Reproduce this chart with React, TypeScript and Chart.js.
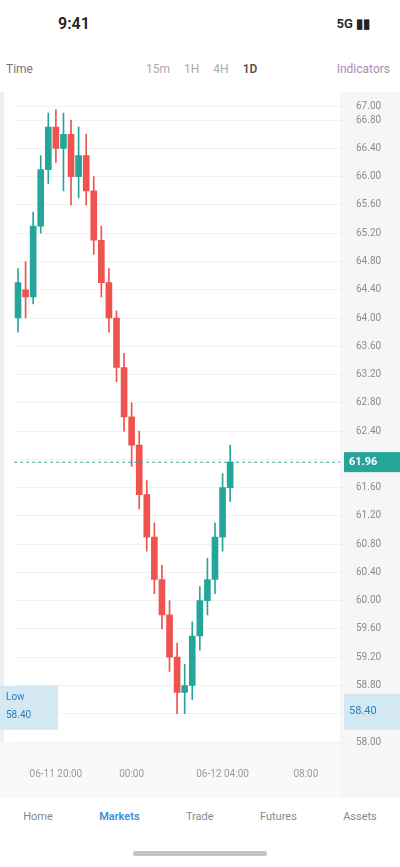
import { useEffect, useRef } from "react";
import { Chart, registerables } from "chart.js";

Chart.register(...registerables);

// candles, left to right; empty slots leave room on the right side
const opens = [64.0, 64.4, 64.3, 65.3, 66.1, 66.7, 66.4, 66.6, 66.0, 66.3, 65.8, 65.1, 64.5, 64.0, 63.3, 62.6, 62.2, 61.5, 60.9, 60.3, 59.8, 59.2, 58.7, 58.8, 59.5, 60.0, 60.3, 60.9, 61.6];
const closes = [64.5, 64.3, 65.3, 66.1, 66.7, 66.4, 66.6, 66.0, 66.3, 65.8, 65.1, 64.5, 64.0, 63.3, 62.6, 62.2, 61.5, 60.9, 60.3, 59.8, 59.2, 58.7, 58.8, 59.5, 60.0, 60.3, 60.9, 61.6, 61.96];
const highs = [64.7, 64.8, 65.5, 66.3, 66.9, 66.95, 66.9, 66.8, 66.7, 66.6, 66.0, 65.3, 64.7, 64.1, 63.5, 62.8, 62.4, 61.7, 61.1, 60.5, 60.0, 59.4, 59.1, 59.7, 60.2, 60.6, 61.1, 61.8, 62.2];
const lows = [63.8, 64.0, 64.2, 65.2, 65.9, 66.2, 65.8, 65.6, 65.7, 65.6, 64.9, 64.3, 63.8, 63.1, 62.4, 61.9, 61.3, 60.7, 60.1, 59.6, 59.0, 58.4, 58.4, 58.6, 59.3, 59.8, 60.1, 60.7, 61.4];
const slotCount = 43;
const xTickIdx = [5, 15, 27, 38];
const xTickText = ["06-11 20:00", "00:00", "06-12 04:00", "08:00"];
const lastPrice = 61.96;
const lowPrice = 58.4;
const tabs = ["Home", "Markets", "Trade", "Futures", "Assets"];
const intervals = ["15m", "1H", "4H", "1D"];

const UP = "#26a69a";
const DOWN = "#ef5350";

function CandleChart() {
  const canvasRef = useRef<HTMLCanvasElement>(null);

  useEffect(() => {
    const canvas = canvasRef.current;
    if (!canvas) return;

    const labels = Array.from({ length: slotCount }, (_, i) => String(i));
    const colors = opens.map((o, i) => (closes[i] >= o ? UP : DOWN));

    const decor = {
      id: "decor",
      beforeDraw(chart: any) {
        const { ctx, chartArea, width, height } = chart;
        ctx.save();
        ctx.fillStyle = "#f6f6f7";
        ctx.fillRect(chartArea.right, 0, width - chartArea.right, height);
        ctx.fillStyle = "#f7f9fa";
        ctx.fillRect(0, chartArea.bottom, chartArea.right, height - chartArea.bottom);
        ctx.restore();
      },
      afterDatasetsDraw(chart: any) {
        const { ctx, chartArea, width, scales } = chart;
        const y = scales.y.getPixelForValue(lastPrice);
        ctx.save();
        ctx.strokeStyle = UP;
        ctx.lineWidth = 1;
        ctx.setLineDash([3, 3]);
        ctx.beginPath();
        ctx.moveTo(chartArea.left, y);
        ctx.lineTo(chartArea.right, y);
        ctx.stroke();
        ctx.setLineDash([]);
        ctx.fillStyle = UP;
        ctx.fillRect(chartArea.right + 4, y - 10, width - chartArea.right - 4, 20);
        ctx.fillStyle = "#fff";
        ctx.font = "bold 11px Roboto";
        ctx.textAlign = "left";
        ctx.textBaseline = "middle";
        ctx.fillText(lastPrice.toFixed(2), chartArea.right + 9, y);

        const ly = scales.y.getPixelForValue(lowPrice);
        ctx.fillStyle = "#d3e8f3";
        ctx.fillRect(chartArea.right + 4, ly - 20, width - chartArea.right - 4, 36);
        ctx.fillStyle = "#2a7fb8";
        ctx.font = "11px Roboto";
        ctx.fillText(lowPrice.toFixed(2), chartArea.right + 9, ly - 2);

        ctx.fillStyle = "#d3e8f3";
        ctx.fillRect(0, ly - 28, 58, 44);
        ctx.fillStyle = "#2a7fb8";
        ctx.font = "10px Roboto";
        ctx.fillText("Low", 6, ly - 16);
        ctx.fillText(lowPrice.toFixed(2), 6, ly + 2);
        ctx.restore();
      },
    };

    const chart = new Chart(canvas, {
      type: "bar",
      data: {
        labels,
        datasets: [
          {
            label: "wick",
            data: lows.map((l, i) => [l, highs[i]]),
            backgroundColor: colors,
            barThickness: 1,
            grouped: false,
          } as any,
          {
            label: "body",
            data: opens.map((o, i) => [o, closes[i]]),
            backgroundColor: colors,
            barThickness: 6,
            minBarLength: 1,
            grouped: false,
          } as any,
        ],
      },
      options: {
        responsive: true,
        maintainAspectRatio: false,
        animation: false,
        layout: { padding: { top: 4, left: 0, right: 0, bottom: 0 } },
        plugins: { legend: { display: false }, tooltip: { enabled: false } },
        scales: {
          x: {
            grid: { display: false },
            border: { display: false },
            ticks: {
              autoSkip: false,
              maxRotation: 0,
              padding: 18,
              color: "#9a9a9a",
              font: { size: 10, family: "Roboto" },
              callback: (_v, i) => {
                const k = xTickIdx.indexOf(i);
                return k >= 0 ? xTickText[k] : "";
              },
            },
          },
          y: {
            position: "right",
            min: 58,
            max: 67,
            grid: { color: "#f1f1f1" },
            border: { display: false },
            afterFit: (scale) => {
              scale.width = 60;
            },
            ticks: {
              stepSize: 0.4,
              padding: 8,
              color: "#8c8c8c",
              font: { size: 10, family: "Roboto" },
              callback: (v) => Number(v).toFixed(2),
            },
          },
        },
      },
      plugins: [decor],
    });

    return () => chart.destroy();
  }, []);

  return (
    <div style={{ position: "absolute", top: 92, left: 0, width: 400, height: 706 }}>
      <canvas ref={canvasRef} />
    </div>
  );
}

export default function App() {
  return (
    <div
      style={{
        position: "fixed",
        inset: 0,
        width: 400,
        height: 867,
        background: "#fff",
        fontFamily: "Roboto, sans-serif",
        overflow: "hidden",
      }}
    >
      {/* status bar */}
      <div style={{ position: "absolute", top: 14, left: 58, fontSize: 16, fontWeight: 600, color: "#222" }}>9:41</div>
      <div style={{ position: "absolute", top: 16, right: 30, fontSize: 13, fontWeight: 600, color: "#222" }}>
        5G ▮▮
      </div>

      {/* toolbar */}
      <div style={{ position: "absolute", top: 62, left: 6, fontSize: 12, color: "#777" }}>Time</div>
      <div style={{ position: "absolute", top: 62, left: 146, display: "flex", gap: 14, fontSize: 12, color: "#aaa" }}>
        {intervals.map((t, i) => (
          <span key={t} style={{ color: i === 3 ? "#555" : "#aaa", fontWeight: i === 3 ? 600 : 400 }}>
            {t}
          </span>
        ))}
      </div>
      <div style={{ position: "absolute", top: 62, right: 10, fontSize: 12, color: "#a98bb3" }}>Indicators</div>

      {/* left edge strip */}
      <div style={{ position: "absolute", top: 92, left: 0, width: 4, height: 670, background: "#eceeef" }} />

      <CandleChart />

      {/* tab bar */}
      <div
        style={{
          position: "absolute",
          top: 810,
          left: 0,
          width: 400,
          display: "flex",
          justifyContent: "space-around",
          fontSize: 11,
        }}
      >
        {tabs.map((t, i) => (
          <span key={t} style={{ color: i === 1 ? "#3b8fd9" : "#888", fontWeight: i === 1 ? 600 : 400 }}>
            {t}
          </span>
        ))}
      </div>

      {/* home indicator */}
      <div
        style={{
          position: "absolute",
          top: 851,
          left: 133,
          width: 134,
          height: 5,
          borderRadius: 3,
          background: "#c4c4c4",
        }}
      />
    </div>
  );
}
